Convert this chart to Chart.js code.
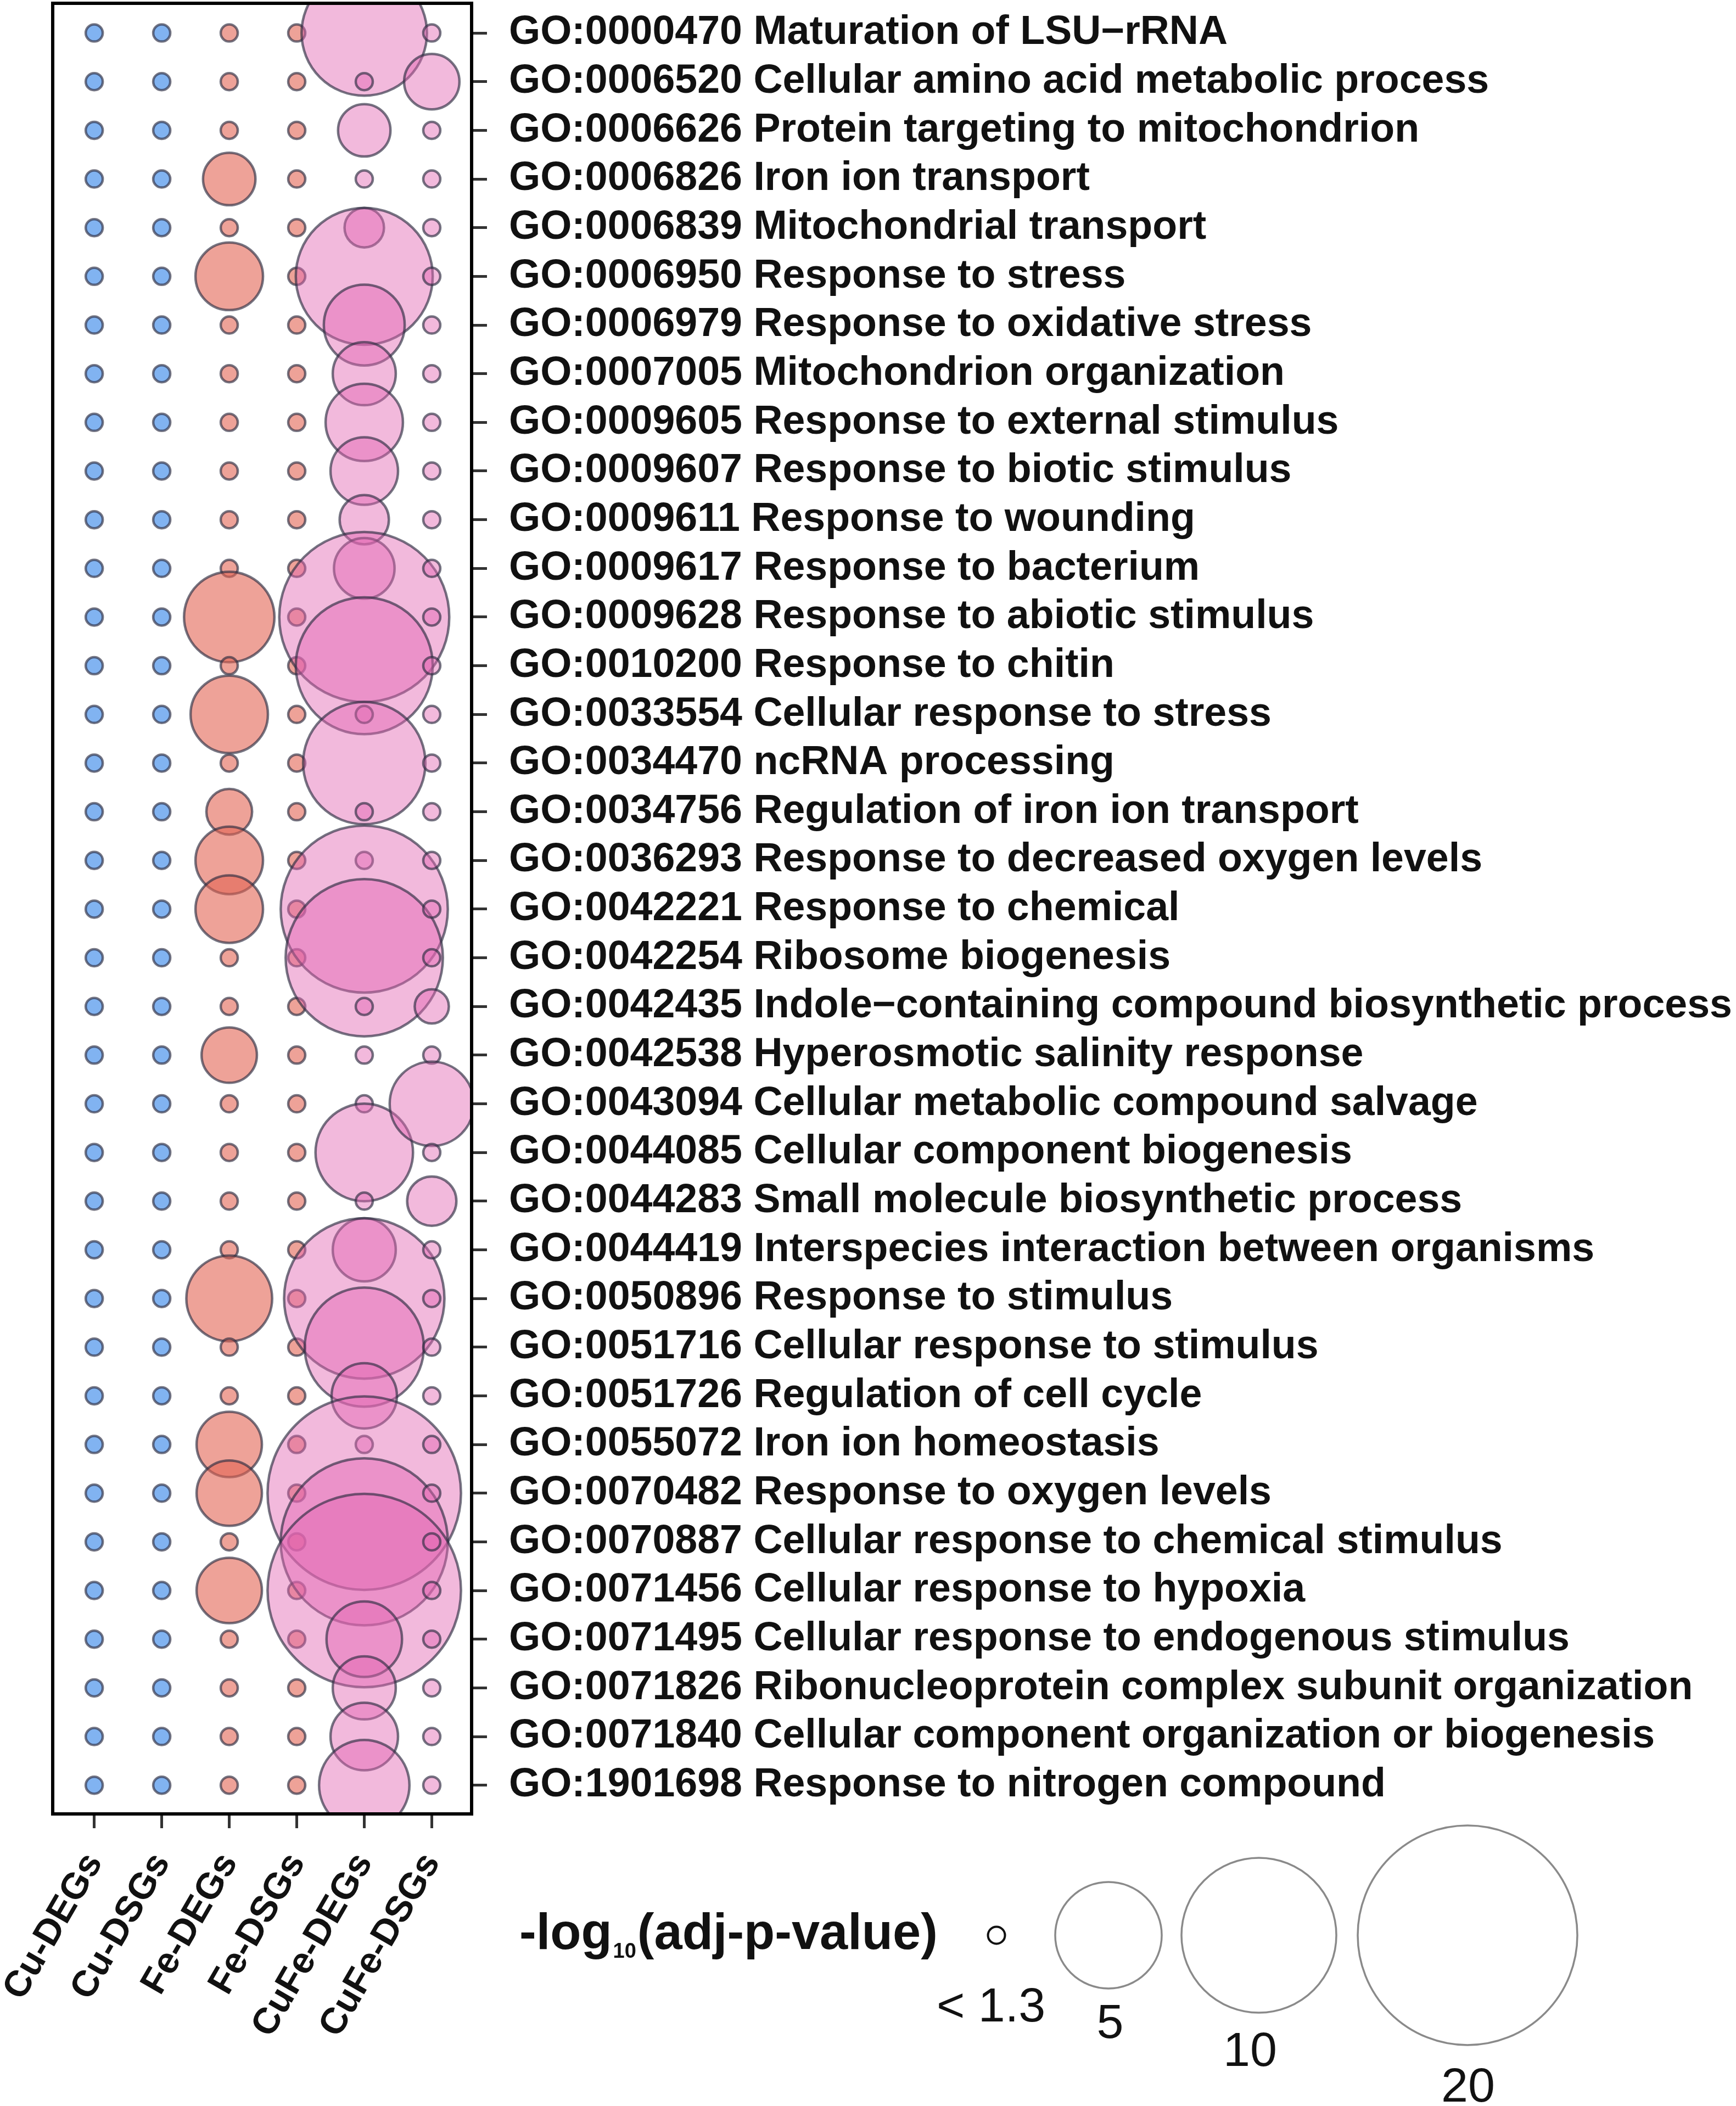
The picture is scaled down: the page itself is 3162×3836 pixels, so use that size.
<!DOCTYPE html>
<html><head><meta charset="utf-8">
<script src="https://cdn.jsdelivr.net/npm/chart.js@4.4.1/dist/chart.umd.min.js"></script>
<style>html,body{margin:0;padding:0;background:#fff;}canvas{display:block;}</style>
</head><body>
<canvas id="c" width="3162" height="3836" style="width:3162px;height:3836px"></canvas>
<script>
const groups = ['Cu-DEGs','Cu-DSGs','Fe-DEGs','Fe-DSGs','CuFe-DEGs','CuFe-DSGs'];
const terms = [
 'GO:0000470 Maturation of LSU\u2212rRNA',
 'GO:0006520 Cellular amino acid metabolic process',
 'GO:0006626 Protein targeting to mitochondrion',
 'GO:0006826 Iron ion transport',
 'GO:0006839 Mitochondrial transport',
 'GO:0006950 Response to stress',
 'GO:0006979 Response to oxidative stress',
 'GO:0007005 Mitochondrion organization',
 'GO:0009605 Response to external stimulus',
 'GO:0009607 Response to biotic stimulus',
 'GO:0009611 Response to wounding',
 'GO:0009617 Response to bacterium',
 'GO:0009628 Response to abiotic stimulus',
 'GO:0010200 Response to chitin',
 'GO:0033554 Cellular response to stress',
 'GO:0034470 ncRNA processing',
 'GO:0034756 Regulation of iron ion transport',
 'GO:0036293 Response to decreased oxygen levels',
 'GO:0042221 Response to chemical',
 'GO:0042254 Ribosome biogenesis',
 'GO:0042435 Indole\u2212containing compound biosynthetic process',
 'GO:0042538 Hyperosmotic salinity response',
 'GO:0043094 Cellular metabolic compound salvage',
 'GO:0044085 Cellular component biogenesis',
 'GO:0044283 Small molecule biosynthetic process',
 'GO:0044419 Interspecies interaction between organisms',
 'GO:0050896 Response to stimulus',
 'GO:0051716 Cellular response to stimulus',
 'GO:0051726 Regulation of cell cycle',
 'GO:0055072 Iron ion homeostasis',
 'GO:0070482 Response to oxygen levels',
 'GO:0070887 Cellular response to chemical stimulus',
 'GO:0071456 Cellular response to hypoxia',
 'GO:0071495 Cellular response to endogenous stimulus',
 'GO:0071826 Ribonucleoprotein complex subunit organization',
 'GO:0071840 Cellular component organization or biogenesis',
 'GO:1901698 Response to nitrogen compound'
];
// -log10(adj-p-value) per GO term; 0 = not significant (< 1.3)
const cuDEGs   = [0,0,0,0,0,0,0,0,0,0, 0,0,0,0,0,0,0,0,0,0, 0,0,0,0,0,0,0,0,0,0, 0,0,0,0,0,0,0];
const cuDSGs   = [0,0,0,0,0,0,0,0,0,0, 0,0,0,0,0,0,0,0,0,0, 0,0,0,0,0,0,0,0,0,0, 0,0,0,0,0,0,0];
const feDEGs   = [0,0,0,1.9,0,2.5,0,0,0,0, 0,0,3.8,0,3.0,0,1.7,2.5,2.5,0, 0,2.0,0,0,0,0,3.5,0,0,2.4, 2.4,0,2.4,0,0,0,0];
const feDSGs   = [0,0,0,0,0,0,0,0,0,0, 0,0,0,0,0,0,0,0,0,0, 0,0,0,0,0,0,0,0,0,0, 0,0,0,0,0,0,0];
const cufeDEGs = [6.7,0,1.9,0,1.55,7.9,3.2,2.3,3.0,2.5, 1.8,2.2,12.0,7.9,0,6.4,0,0,11.6,10.3, 0,0,0,4.3,0,2.3,10.7,6.1,2.4,0, 15.5,11.6,15.5,2.9,2.3,2.5,3.8];
const cufeDSGs = [0,2.0,0,0,0,0,0,0,0,0, 0,0,0,0,0,0,0,0,0,0, 1.45,0,3.4,0,1.8,0,0,0,0,0, 0,0,0,0,0,0,0];
const series = [cuDEGs, cuDSGs, feDEGs, feDSGs, cufeDEGs, cufeDSGs];
const legendBreaks = [0, 5, 10, 20];
const legendLabels = ['< 1.3', '5', '10', '20'];

const THRESH = 1.3;
function rad(v){ return v < THRESH ? 15.5 : 14.5 + 42.9 * Math.sqrt(v - THRESH); }

const fills = ['rgba(80,150,235,0.72)','rgba(80,150,235,0.72)',
               'rgba(226,100,84,0.6)','rgba(226,100,84,0.6)',
               'rgba(226,100,178,0.45)','rgba(226,100,178,0.45)'];
const FONT = 'Liberation Sans';

const datasets = series.map((vals, i) => ({
  label: groups[i],
  data: vals.map((v, j) => ({x: i, y: j, r: rad(v)})),
  backgroundColor: fills[i],
  borderColor: 'rgba(45,45,65,0.65)',
  borderWidth: 4.5,
  clip: 0,
  order: 6 - i
}));

function zeroPad(s){ s.paddingTop = 0; s.paddingBottom = 0; s.paddingLeft = 0; s.paddingRight = 0; }

const boxPlugin = {
  id: 'box',
  afterDatasetsDraw(chart){
    const a = chart.chartArea, ctx = chart.ctx;
    ctx.save(); ctx.strokeStyle = '#000'; ctx.lineWidth = 6;
    ctx.strokeRect(a.left, a.top, a.right - a.left, a.bottom - a.top);
    ctx.restore();
  }
};
const sizeLegend = {
  id: 'sizeLegend',
  afterDraw(chart){
    const ctx = chart.ctx;
    ctx.save();
    ctx.fillStyle = '#111'; ctx.textAlign = 'left'; ctx.textBaseline = 'alphabetic';
    let x = 946; const yb = 3550;
    ctx.font = 'bold 92px "' + FONT + '"';
    ctx.fillText('-log', x, yb); x += ctx.measureText('-log').width + 2;
    ctx.font = 'bold 38px "' + FONT + '"';
    ctx.fillText('10', x, yb + 16); x += ctx.measureText('10').width + 2;
    ctx.font = 'bold 92px "' + FONT + '"';
    ctx.fillText('(adj-p-value)', x, yb);
    const cx = [1815, 2019, 2293, 2673], cy = 3525;
    const lx = [1805, 2022, 2277, 2674], ly = [3682, 3712, 3763, 3828];
    legendBreaks.forEach((b, i) => {
      ctx.beginPath();
      ctx.arc(cx[i], cy, rad(b), 0, Math.PI * 2);
      ctx.lineWidth = i === 0 ? 4 : 3.5;
      ctx.strokeStyle = i === 0 ? '#111' : '#8a8a8a';
      ctx.stroke();
      ctx.font = '88px "' + FONT + '"'; ctx.textAlign = 'center'; ctx.fillStyle = '#111';
      ctx.fillText(legendLabels[i], lx[i], ly[i]);
    });
    ctx.restore();
  }
};

new Chart(document.getElementById('c'), {
  type: 'bubble',
  data: { datasets },
  options: {
    responsive: false, animation: false, devicePixelRatio: 1,
    layout: { autoPadding: false, padding: { left: 96, top: 6, right: 0, bottom: 0 } },
    plugins: { legend: { display: false }, tooltip: { enabled: false } },
    scales: {
      x: {
        type: 'linear', position: 'bottom', min: -0.615, max: 5.59,
        afterBuildTicks: s => { s.ticks = groups.map((g, i) => ({ value: i })); },
        afterFit: s => { s.height = 532; zeroPad(s); },
        ticks: { autoSkip: false, minRotation: 60, maxRotation: 60, padding: 32, color: '#111',
                 font: { family: FONT, weight: 'bold', size: 67 },
                 callback: v => groups[Math.round(v)] },
        grid: { drawOnChartArea: false, drawTicks: true, tickLength: 26, lineWidth: 5, color: '#333' },
        border: { display: false }
      },
      y: {
        type: 'linear', position: 'right', reverse: true, min: -0.61, max: 36.59,
        afterBuildTicks: s => { s.ticks = terms.map((t, i) => ({ value: i })); },
        afterFit: s => { s.width = 2303; zeroPad(s); },
        ticks: { autoSkip: false, padding: 40, crossAlign: 'near', color: '#111',
                 font: { family: FONT, weight: 'bold', size: 73.5 },
                 callback: v => terms[Math.round(v)] },
        grid: { drawOnChartArea: false, drawTicks: true, tickLength: 28, lineWidth: 5, color: '#333' },
        border: { display: false }
      }
    }
  },
  plugins: [boxPlugin, sizeLegend]
});
</script>
</body></html>
